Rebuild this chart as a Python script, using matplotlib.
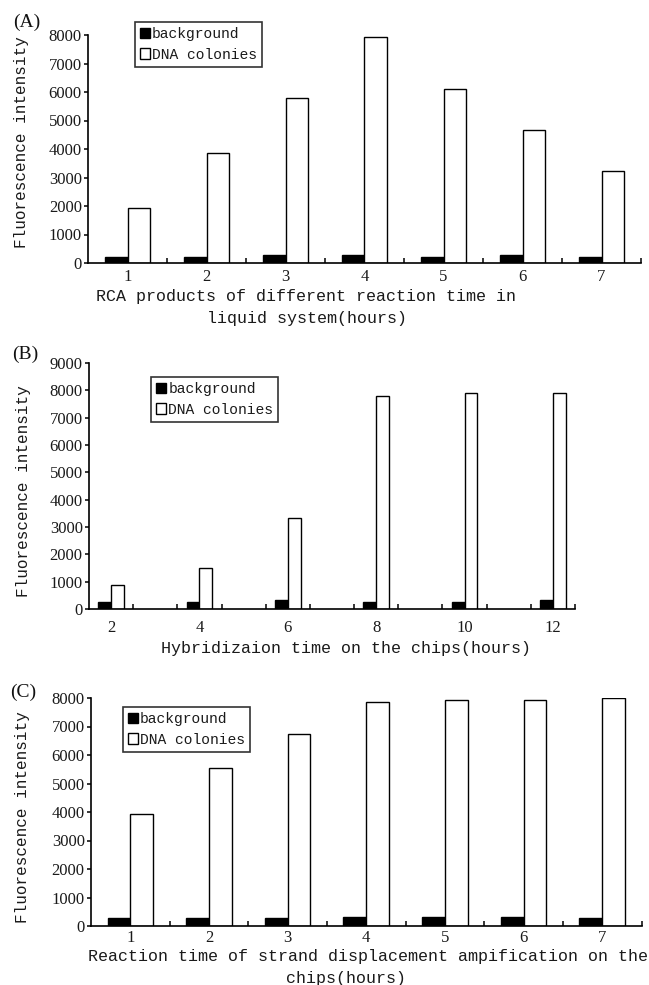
import matplotlib
matplotlib.use("Agg")
import matplotlib.pyplot as plt
from matplotlib.patches import Patch
import numpy as np

# ---------------- data ----------------
hours_a = [1, 2, 3, 4, 5, 6, 7]
bg_a = [220, 220, 270, 270, 220, 270, 220]
dna_a = [1920, 3860, 5790, 7930, 6120, 4670, 3220]

hours_b = [2, 4, 6, 8, 10, 12]
bg_b = [270, 270, 320, 270, 270, 320]
dna_b = [880, 1510, 3330, 7800, 7910, 7910]

hours_c = [1, 2, 3, 4, 5, 6, 7]
bg_c = [280, 280, 280, 330, 330, 330, 280]
dna_c = [3940, 5560, 6720, 7860, 7920, 7920, 8000]

legend_labels = ["background", "DNA colonies"]
ylabel = "Fluorescence intensity"
xlabel_a = ["RCA products of different reaction time in", "liquid system(hours)"]
xlabel_b = "Hybridizaion time on the chips(hours)"
xlabel_c = ["Reaction time of strand displacement ampification on the", "chips(hours)"]
panel_labels = ["(A)", "(B)", "(C)"]

W, H = 649, 985
fig = plt.figure(figsize=(W / 100, H / 100), dpi=100)
fig.patch.set_facecolor("white")

MONO = "Liberation Mono"
SERIF = "Liberation Serif"


def px(x, y):
    return x / W, 1 - y / H


def add_axes(x0, y0, x1, y1):
    return fig.add_axes([x0 / W, 1 - y1 / H, (x1 - x0) / W, (y1 - y0) / H])


def style(ax, xlim, ylim, ystep, label_hours, xpad):
    ax.set_xlim(*xlim)
    ax.set_ylim(*ylim)
    for s in ["top", "right"]:
        ax.spines[s].set_visible(False)
    for s in ["left", "bottom"]:
        ax.spines[s].set_linewidth(1.2)
    ax.set_yticks(np.arange(ylim[0], ylim[1] + 1, ystep))
    ax.set_xticks(label_hours)
    ax.set_xticklabels([str(h) for h in label_hours])
    ax.set_xticks(np.arange(xlim[0] + 1, xlim[1] + 0.01, 1.0), minor=True)
    ax.tick_params(axis="y", direction="out", length=3, width=1.1, pad=1.5)
    ax.tick_params(axis="x", which="major", length=0, pad=xpad)
    ax.tick_params(axis="x", which="minor", direction="in", length=3.5, width=1.1)
    for t in ax.get_xticklabels() + ax.get_yticklabels():
        t.set_fontfamily(SERIF)
        t.set_fontsize(12)
        t.set_color("#1a1a1a")


def bars(ax, xs, bg, dna):
    bw = 0.29
    x = np.array(xs, dtype=float)
    ax.bar(x - bw / 2, bg, width=bw, color="black", edgecolor="black", linewidth=1.0)
    ax.bar(x + bw / 2, dna, width=bw, color="white", edgecolor="black", linewidth=1.0)


def legend(ax, x0, y0):
    handles = [Patch(facecolor="black", edgecolor="black"),
               Patch(facecolor="white", edgecolor="black", linewidth=1.0)]
    lg = ax.legend(handles, legend_labels, loc="upper left",
                   bbox_to_anchor=px(x0, y0), bbox_transform=fig.transFigure,
                   prop={"family": MONO, "size": 10.5}, frameon=True, fancybox=False,
                   handlelength=0.7, handleheight=0.75, handletextpad=0.15,
                   borderpad=0.35, labelspacing=0.45, borderaxespad=0)
    fr = lg.get_frame()
    fr.set_edgecolor("black")
    fr.set_linewidth(1.2)
    for t in lg.get_texts():
        t.set_color("#1a1a1a")


# ---------------- panel A ----------------
axA = add_axes(88, 35, 641, 263)
bars(axA, hours_a, bg_a, dna_a)
style(axA, (0.5, 7.5), (0, 8000), 1000, hours_a, 4.5)
legend(axA, 134.5, 22)

# ---------------- panel B ----------------
axB = add_axes(89, 363, 575, 609)
bars(axB, hours_b, bg_b, dna_b)
style(axB, (1.5, 12.5), (0, 9000), 1000, hours_b, 8)
legend(axB, 150.7, 377)

# ---------------- panel C ----------------
axC = add_axes(91, 698, 641.6, 926)
bars(axC, hours_c, bg_c, dna_c)
style(axC, (0.5, 7.5), (0, 8000), 1000, hours_c, 3)
legend(axC, 122.5, 707)

# ---------------- texts ----------------
tk = dict(family=MONO, color="#1a1a1a")
for (x, y), lab in zip([(13, 22.5), (12, 354), (10, 692)], panel_labels):
    fig.text(*px(x, y), lab, family=SERIF, fontsize=14, ha="left", va="center", color="#111111")

for (x, y) in [(22, 142), (24, 491), (23, 817)]:
    fig.text(*px(x, y), ylabel, rotation=90, ha="center", va="center", fontsize=11.5, **tk)

fig.text(*px(306, 296), xlabel_a[0], ha="center", va="center", fontsize=12, **tk)
fig.text(*px(307, 318.5), xlabel_a[1], ha="center", va="center", fontsize=12, **tk)
fig.text(*px(346, 648), xlabel_b, ha="center", va="center", fontsize=12, **tk)
fig.text(*px(368.5, 956), xlabel_c[0], ha="center", va="center", fontsize=12, **tk)
fig.text(*px(346, 978), xlabel_c[1], ha="center", va="center", fontsize=12, **tk)

fig.savefig("out.png", dpi=100, facecolor="white")
